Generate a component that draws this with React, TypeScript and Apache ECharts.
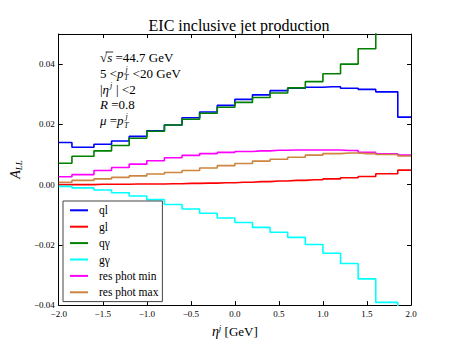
import React, { useEffect, useRef } from 'react';
import * as echarts from 'echarts';

// Bin representative points (steps drawn at midpoints, like matplotlib steps-mid)
const etaPoints = [-2.0, -1.7, -1.5, -1.3, -1.1, -0.9, -0.7, -0.5, -0.3, -0.1, 0.1, 0.3, 0.5, 0.7, 0.9, 1.1, 1.3, 1.5, 1.7, 2.0];

const ql = [0.0140, 0.0124, 0.0134, 0.0145, 0.0160, 0.0179, 0.0198, 0.0222, 0.0241, 0.0263, 0.0283, 0.0298, 0.0312, 0.0320, 0.0323, 0.0325, 0.0320, 0.0316, 0.0308, 0.0224];
const gl = [0.0000, 0.0000, 0.0001, 0.0001, 0.0002, 0.0002, 0.0003, 0.0004, 0.0005, 0.0006, 0.0008, 0.0010, 0.0012, 0.0014, 0.0016, 0.0019, 0.0023, 0.0027, 0.0036, 0.0048];
const qGamma = [0.0071, 0.0094, 0.0112, 0.0130, 0.0154, 0.0177, 0.0198, 0.0217, 0.0237, 0.0257, 0.0273, 0.0289, 0.0304, 0.0321, 0.0342, 0.0368, 0.0400, 0.0451, 0.0560, 0.0650];
const gGamma = [-0.0006, -0.0011, -0.0018, -0.0027, -0.0038, -0.0050, -0.0066, -0.0081, -0.0095, -0.0111, -0.0126, -0.0142, -0.0158, -0.0175, -0.0199, -0.0228, -0.0262, -0.0313, -0.0391, -0.0460];
const resPhotMin = [0.0026, 0.0033, 0.0047, 0.0057, 0.0068, 0.0079, 0.0089, 0.0097, 0.0103, 0.0107, 0.0110, 0.0112, 0.0114, 0.0115, 0.0115, 0.0115, 0.0113, 0.0107, 0.0102, 0.0098];
const resPhotMax = [0.0008, 0.0014, 0.0019, 0.0024, 0.0029, 0.0035, 0.0040, 0.0047, 0.0055, 0.0063, 0.0070, 0.0078, 0.0084, 0.0091, 0.0098, 0.0103, 0.0105, 0.0103, 0.0100, 0.0095];

const seriesNames = ['ql', 'gl', 'qγ', 'gγ', 'res phot min', 'res phot max'];
const seriesValues = [ql, gl, qGamma, gGamma, resPhotMin, resPhotMax];
const seriesColors = ['#0000ff', '#ff0000', '#008000', '#00ffff', '#ff00ff', '#cd853f'];

const SERIF = '"Liberation Serif", "Times New Roman", serif';

type Piece =
  | { kind: 'n' | 'i'; t: string; over?: boolean }
  | { kind: 'sup'; t: string }
  | { kind: 'stack'; sup: string; sub: string };

const annotationLines: Piece[][] = [
  [{ kind: 'n', t: '√' }, { kind: 'i', t: 's', over: true }, { kind: 'n', t: ' =44.7 GeV' }],
  [{ kind: 'n', t: '5 <' }, { kind: 'i', t: 'p' }, { kind: 'stack', sup: 'j', sub: 'T' }, { kind: 'n', t: ' <20 GeV' }],
  [{ kind: 'n', t: '|' }, { kind: 'i', t: 'η' }, { kind: 'sup', t: 'j' }, { kind: 'n', t: ' | <2' }],
  [{ kind: 'i', t: 'R' }, { kind: 'n', t: ' =0.8' }],
  [{ kind: 'i', t: 'μ' }, { kind: 'n', t: ' =' }, { kind: 'i', t: 'p' }, { kind: 'stack', sup: 'j', sub: 'T' }],
];

let measureCtx: CanvasRenderingContext2D | null = null;
function textWidth(text: string, font: string): number {
  if (!measureCtx) measureCtx = document.createElement('canvas').getContext('2d');
  if (!measureCtx) return text.length * 6;
  measureCtx.font = font;
  return measureCtx.measureText(text).width;
}

function buildAnnotation(x0: number, y0: number, dy: number) {
  const els: any[] = [];
  const main = 13;
  const small = 8;
  annotationLines.forEach((pieces, li) => {
    const y = y0 + li * dy;
    let x = x0;
    pieces.forEach((p) => {
      if (p.kind === 'n' || p.kind === 'i') {
        const style = p.kind === 'i' ? 'italic' : 'normal';
        const font = `${style} ${main}px ${SERIF}`;
        els.push({
          type: 'text', x, y, z: 100,
          style: { text: p.t, font, fill: '#000', textAlign: 'left', textVerticalAlign: 'middle' },
        });
        const w = textWidth(p.t, font);
        if (p.over) {
          els.push({
            type: 'line', z: 100,
            shape: { x1: x - 1.5, y1: y - 5.5, x2: x + w + 1, y2: y - 5.5 },
            style: { stroke: '#000', lineWidth: 0.8 },
          });
        }
        x += w;
      } else if (p.kind === 'sup') {
        const font = `italic ${small}px ${SERIF}`;
        els.push({
          type: 'text', x: x + 1, y: y - 4, z: 100,
          style: { text: p.t, font, fill: '#000', textAlign: 'left', textVerticalAlign: 'middle' },
        });
        x += textWidth(p.t, font) + 1.5;
      } else {
        const font = `italic ${small}px ${SERIF}`;
        els.push({
          type: 'text', x: x + 2, y: y - 4, z: 100,
          style: { text: p.sup, font, fill: '#000', textAlign: 'left', textVerticalAlign: 'middle' },
        });
        els.push({
          type: 'text', x: x + 0.5, y: y + 4.5, z: 100,
          style: { text: p.sub, font, fill: '#000', textAlign: 'left', textVerticalAlign: 'middle' },
        });
        x += Math.max(textWidth(p.sup, font) + 2, textWidth(p.sub, font) + 0.5) + 1;
      }
    });
  });
  return els;
}

const fmtY = (v: number) => {
  const s = (Math.round(v * 100) / 100).toFixed(2);
  return s.replace('-', '\u2212');
};
const fmtX = (v: number) => {
  const s = (Math.round(v * 10) / 10).toFixed(1);
  return s.replace('-', '\u2212');
};

export default function App() {
  const ref = useRef<HTMLDivElement>(null);
  useEffect(() => {
    if (!ref.current) return;
    const chart = echarts.init(ref.current, undefined, { renderer: 'svg' });
    const axisLine = { show: true, onZero: false, lineStyle: { color: '#000', width: 1 } };
    const axisTick = { show: true, inside: true, length: 4, lineStyle: { color: '#000', width: 1 } };
    const option: any = {
      animation: false,
      backgroundColor: '#fff',
      title: {
        text: 'EIC inclusive jet production',
        left: 234,
        top: 12,
        textAlign: 'center',
        textStyle: { fontFamily: SERIF, fontSize: 16, fontWeight: 'normal', color: '#000' },
      },
      grid: { left: 57, top: 34, right: 46, bottom: 36, containLabel: false },
      xAxis: [
        {
          type: 'value', min: -2, max: 2, interval: 0.5, position: 'bottom',
          axisLine, axisTick, splitLine: { show: false },
          axisLabel: { formatter: fmtX, fontFamily: SERIF, fontSize: 9, color: '#000', margin: 4 },
          name: '{i|η}{sup|j}{n| [GeV]}',
          nameLocation: 'middle',
          nameGap: 17,
          nameTextStyle: {
            rich: {
              i: { fontFamily: SERIF, fontStyle: 'italic', fontSize: 14, lineHeight: 16, color: '#000' },
              sup: { fontFamily: SERIF, fontStyle: 'italic', fontSize: 9, lineHeight: 9, verticalAlign: 'top', color: '#000' },
              n: { fontFamily: SERIF, fontSize: 13, lineHeight: 16, color: '#000' },
            },
          },
        },
        {
          type: 'value', min: -2, max: 2, interval: 0.5, position: 'top',
          axisLine, axisTick, splitLine: { show: false }, axisLabel: { show: false },
        },
      ],
      yAxis: [
        {
          type: 'value', min: -0.04, max: 0.05, interval: 0.02, position: 'left',
          axisLine, axisTick, splitLine: { show: false },
          axisLabel: { formatter: fmtY, fontFamily: SERIF, fontSize: 9, color: '#000', margin: 4, showMaxLabel: false },
          name: '{a|A}{s|LL}',
          nameLocation: 'middle',
          nameGap: 29,
          nameTextStyle: {
            rich: {
              a: { fontFamily: SERIF, fontStyle: 'italic', fontSize: 14, lineHeight: 16, color: '#000' },
              s: { fontFamily: SERIF, fontStyle: 'italic', fontSize: 9, lineHeight: 9, verticalAlign: 'bottom', color: '#000' },
            },
          },
        },
        {
          type: 'value', min: -0.04, max: 0.05, interval: 0.02, position: 'right',
          axisLine, axisTick, splitLine: { show: false }, axisLabel: { show: false },
        },
      ],
      legend: {
        orient: 'vertical',
        left: 63,
        top: 201,
        itemWidth: 18,
        itemHeight: 2,
        itemGap: 2.4,
        icon: 'rect',
        padding: [2.3, 4, 2.3, 7],
        borderColor: '#444',
        borderWidth: 1,
        borderRadius: 0,
        backgroundColor: '#fff',
        textStyle: { fontFamily: SERIF, fontSize: 11.5, color: '#000', lineHeight: 14, padding: [0, 0, 0, 6] },
        data: seriesNames,
        z: 50,
      },
      series: seriesNames.map((name, i) => ({
        name,
        type: 'line',
        step: 'middle',
        showSymbol: false,
        symbol: 'none',
        clip: true,
        color: seriesColors[i],
        lineStyle: { color: seriesColors[i], width: 1.6 },
        data: etaPoints.map((x, j) => [x, seriesValues[i][j]]),
        xAxisIndex: 0,
        yAxisIndex: 0,
      })),
      graphic: { elements: buildAnnotation(100, 57.5, 15.8) },
    };
    chart.setOption(option);
    return () => chart.dispose();
  }, []);
  return <div ref={ref} style={{ position: 'absolute', left: 0, top: 0, width: 457, height: 343 }} />;
}
